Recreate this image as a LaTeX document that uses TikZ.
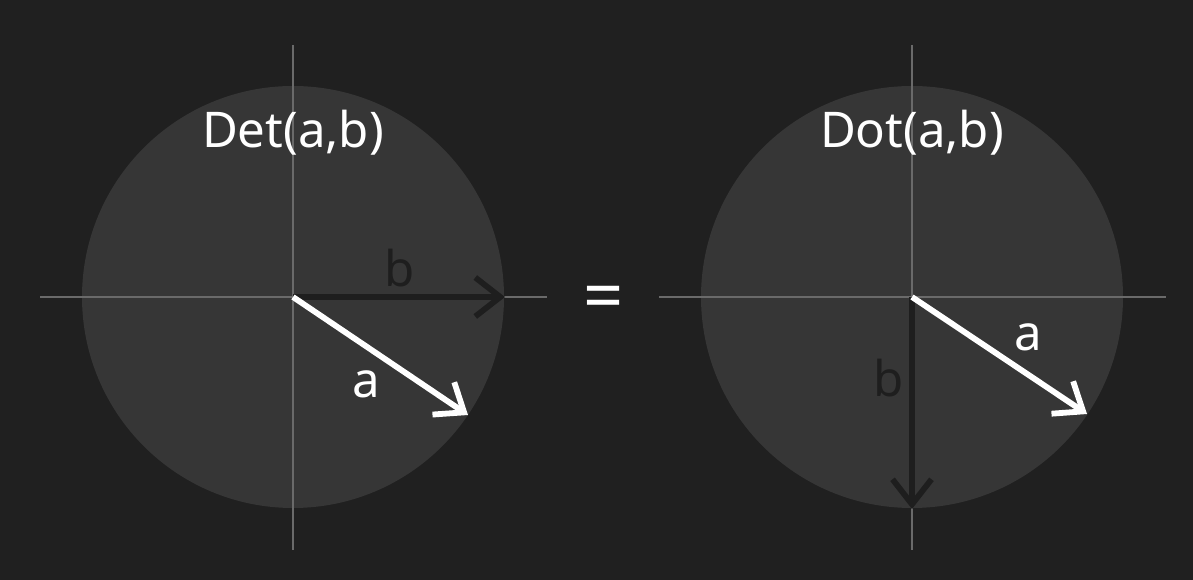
\documentclass[tikz,border=0pt]{standalone}
\usepackage{fontspec}
\setmainfont{Noto Sans}
\usetikzlibrary{arrows.meta}
\definecolor{BgGray}{RGB}{32,32,32}
\definecolor{DiskGray}{RGB}{54,54,54}
\definecolor{AxisGray}{RGB}{106,106,106}
\definecolor{DarkVec}{RGB}{30,30,30}

\begin{document}
\begin{tikzpicture}[
 x=0.02cm, y=-0.02cm,
 disk/.style={fill=DiskGray, draw=none},
 axis/.style={draw=AxisGray, line width=1.1pt},
 vecw/.style={-{Straight Barb[length=0.5cm, width=0.78cm]}, white, line width=3.3pt},
 vecd/.style={-{Straight Barb[length=0.5cm, width=0.78cm]}, DarkVec, line width=3.3pt},
 lbl/.style={font=\fontsize{28}{34}\selectfont, inner sep=0pt},
]
\fill[BgGray] (0,0) rectangle (1193,580);
\useasboundingbox (0,0) rectangle (1193,580);

% left disk
\coordinate (o1) at (293,297);
\fill[disk] (o1) circle[radius=211];
\draw[axis] (40,297) -- (547,297);
\draw[axis] (293,45) -- (293,550);
\coordinate (b1) at (505,297);
\coordinate (a1) at (468,415);
\draw[vecd] (o1) -- (b1);
\draw[vecw] (o1) -- (a1);
\node[lbl, DarkVec] (lb1) at (400,268) {b};
\node[lbl, white] (la1) at (366,384) {a};
\node[lbl, white] (t1) at (293,133) {Det(a,b)};

\node[lbl, white, font=\fontsize{40}{44}\selectfont\bfseries] (eq) at (604,303) {=};

% right disk
\coordinate (o2) at (912,297);
\fill[disk] (o2) circle[radius=211];
\draw[axis] (659,297) -- (1166,297);
\draw[axis] (912,45) -- (912,550);
\coordinate (b2) at (912,509);
\coordinate (a2) at (1087,414);
\draw[vecd] (o2) -- (b2);
\draw[vecw] (o2) -- (a2);
\node[lbl, DarkVec] (lb2) at (889,378) {b};
\node[lbl, white] (la2) at (1028,337) {a};
\node[lbl, white] (t2) at (912,133) {Dot(a,b)};
\end{tikzpicture}
\end{document}
